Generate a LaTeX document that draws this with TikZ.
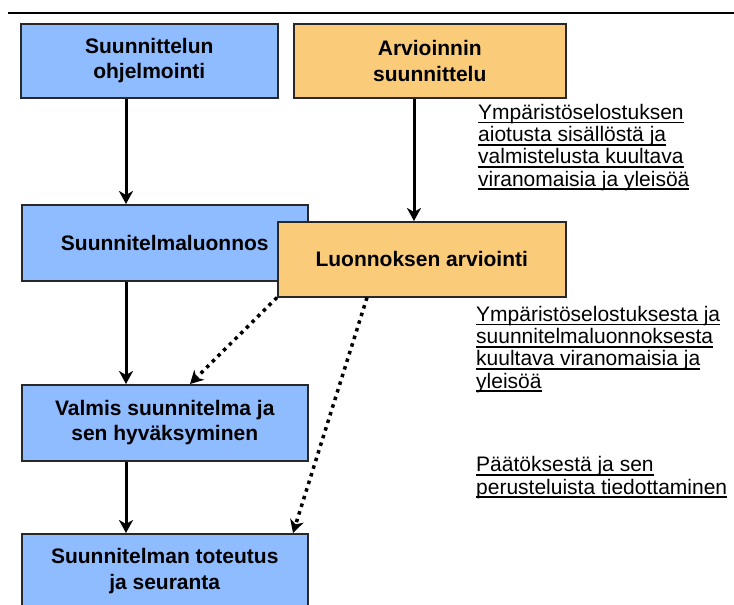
\documentclass[tikz,border=0pt]{standalone}
\usepackage{fontspec}
\setmainfont{Liberation Sans}
\usetikzlibrary{arrows.meta}
\definecolor{boxblue}{RGB}{143,187,255}
\definecolor{boxorange}{RGB}{250,204,122}
\definecolor{edge}{RGB}{40,40,40}
\newcommand\ulin[1]{\setbox0\hbox{#1}\rlap{\rule[-4pt]{\wd0}{1.6pt}}\box0}
\tikzset{
  box/.style={draw=edge, line width=1.5pt, anchor=north west, inner sep=0pt,
    align=center, font=\fontsize{21}{25.5}\selectfont\bfseries},
  bluebox/.style={box, fill=boxblue},
  orangebox/.style={box, fill=boxorange},
  note/.style={anchor=base west, inner sep=0pt, align=left,
    font=\fontsize{21}{22.2}\selectfont},
  arr/.style={line width=3pt, -{Stealth[length=13pt,width=14pt,inset=4pt]}},
  dotarr/.style={line width=3.5pt, dash pattern=on 3.5pt off 4.5pt,
    -{Stealth[length=13pt,width=14pt,inset=4pt]}}
}
\begin{document}
\begin{tikzpicture}[x=1pt,y=-1pt]
\useasboundingbox (0,0) rectangle (734,605);
\clip (0,0) rectangle (734,605);
\coordinate (topL) at (8,13);
\coordinate (topR) at (734,13);
\draw[line width=2pt] (topL) -- (topR);

\node[bluebox, minimum width=257pt, minimum height=74pt] (b1) at (20,23) {Suunnittelun\\ohjelmointi};
\node[orangebox, minimum width=272pt, minimum height=74pt] (b2) at (293,23) {Arvioinnin\\suunnittelu};
\node[bluebox, minimum width=286pt, minimum height=76pt] (b3) at (21,204) {Suunnitelmaluonnos};
\node[orangebox, minimum width=288pt, minimum height=75pt] (b4) at (277,221) {Luonnoksen arviointi};
\node[bluebox, minimum width=286pt, minimum height=76pt] (b5) at (21,384) {Valmis suunnitelma ja\\sen hyväksyminen};
\node[bluebox, minimum width=286pt, minimum height=75pt] (b6) at (21,533) {Suunnitelman toteutus\\ja seuranta};

\node[note] (n1) at (478,186) {\ulin{Ympäristöselostuksen}\\\ulin{aiotusta sisällöstä ja}\\\ulin{valmistelusta kuultava}\\\ulin{viranomaisia ja yleisöä}};
\node[note] (n2) at (476,388) {\ulin{Ympäristöselostuksesta ja}\\\ulin{suunnitelmaluonnoksesta}\\\ulin{kuultava viranomaisia ja}\\\ulin{yleisöä}};
\node[note] (n3) at (476,494) {\ulin{Päätöksestä ja sen}\\\ulin{perusteluista tiedottaminen}};

\coordinate (cx) at (126,0);
\coordinate (ax) at (414,0);
\coordinate (d1s) at (277,296);
\coordinate (d1e) at (190,384);
\coordinate (d2s) at (367,296);
\coordinate (d2e) at (293,533);

\draw[arr] (b1.south -| cx) -- (b3.north -| cx);
\draw[arr] (b2.south -| ax) -- (b4.north -| ax);
\draw[arr] (b3.south -| cx) -- (b5.north -| cx);
\draw[arr] (b5.south -| cx) -- (b6.north -| cx);
\draw[dotarr] (b4.south west) -- (b5.north -| d1e);
\draw[dotarr] (b4.south -| d2s) -- (b6.north -| d2e);
\end{tikzpicture}
\end{document}
